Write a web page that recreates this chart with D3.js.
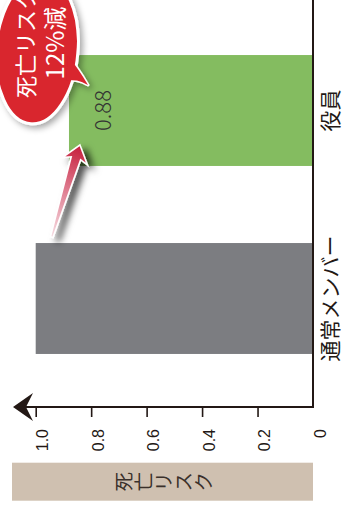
<!DOCTYPE html>
<html>
<head>
<meta charset="utf-8">
<script src="https://cdn.jsdelivr.net/npm/d3@7/dist/d3.min.js"></script>
<style>
  html, body { margin: 0; padding: 0; background: #fff; overflow: hidden; }
  svg { display: block; }
</style>
</head>
<body>
<svg id="chart" width="344" height="506"></svg>
<script>
// ---- data ----
const categories = ["通常メンバー", "役員"];
const riskValues = [1.0, 0.88];
const barColors = ["#7c7d81", "#84bc60"];
const tickValues = [0, 0.2, 0.4, 0.6, 0.8, 1.0];
const tickLabels = ["0", "0.2", "0.4", "0.6", "0.8", "1.0"];
const axisTitle = "死亡リスク";
const calloutLines = ["死亡リスク", "12%減"];
const labelledBar = 1; // index of the bar that carries a value label

// ---- layout ----
const W = 344, H = 506;
// The chart is built as an upright column chart in a 506 x 344 frame,
// then turned a quarter turn counter-clockwise onto the page.
const FW = 506, FH = 344;
const ink = "#231815";
const jpFont = "'Noto Sans CJK JP', 'Noto Sans', sans-serif";
const numFont = "'Liberation Sans', Arial, sans-serif";

const svg = d3.select("#chart");
const defs = svg.append("defs");
const g = svg.append("g").attr("transform", `translate(0,${H}) rotate(-90)`);

const axisX = 99;          // position of the value axis
const baseY = 313;         // zero line
const topY = 35.7;         // value 1.0

const x = d3.scaleBand()
  .domain(categories)
  .range([113.5, 489.5])
  .paddingInner(0.41)
  .paddingOuter(0.205);

const y = d3.scaleLinear().domain([0, 1]).range([baseY, topY]);

// ---- axis title band ----
const titleBox = { x: 5.3, w: 38 };
g.append("rect")
  .attr("x", titleBox.x).attr("y", 12)
  .attr("width", titleBox.w).attr("height", baseY - 12)
  .attr("fill", "#cfc0b0");

const titleChars = Array.from(axisTitle);
const titleMid = (12 + baseY) / 2;
g.append("g").selectAll("text").data(titleChars).join("text")
  .attr("x", titleBox.x + titleBox.w / 2)
  .attr("y", (d, i) => titleMid + (i - (titleChars.length - 1) / 2) * 20)
  .attr("text-anchor", "middle")
  .attr("dominant-baseline", "central")
  .attr("font-family", jpFont)
  .attr("font-size", 19.5)
  .attr("fill", "#3a302b")
  .text(d => d);

// ---- bars ----
g.append("g").selectAll("rect").data(categories).join("rect")
  .attr("x", d => x(d))
  .attr("width", x.bandwidth())
  .attr("y", (d, i) => y(riskValues[i]))
  .attr("height", (d, i) => baseY - y(riskValues[i]))
  .attr("fill", (d, i) => barColors[i]);

// value label on the highlighted bar
g.append("text")
  .attr("x", x(categories[labelledBar]) + x.bandwidth() / 2)
  .attr("y", y(riskValues[labelledBar]) + 42)
  .attr("text-anchor", "middle")
  .attr("font-family", jpFont)
  .attr("font-weight", 300)
  .attr("font-size", 22)
  .attr("fill", "#333")
  .text(d3.format(".2f")(riskValues[labelledBar]));

// ---- value axis ----
const axis = d3.axisLeft(y)
  .tickValues(tickValues)
  .tickFormat((d, i) => tickLabels[i])
  .tickSize(10)
  .tickPadding(12);

const ag = g.append("g").attr("transform", `translate(${axisX},0)`).call(axis);
ag.select(".domain").remove();
ag.selectAll(".tick line")
  .attr("stroke", ink)
  .attr("stroke-width", 1.6)
  .attr("opacity", d => (d === 0 ? 0 : 1));
ag.selectAll(".tick text")
  .attr("font-family", numFont)
  .attr("font-size", 16)
  .attr("fill", ink)
  .attr("transform", "translate(0,7)");

// axis line with arrow head
g.append("line")
  .attr("x1", axisX).attr("x2", axisX)
  .attr("y1", baseY).attr("y2", 26)
  .attr("stroke", ink).attr("stroke-width", 2);
g.append("path")
  .attr("d", `M${axisX},13 L${axisX + 14},33 L${axisX},26 L${axisX - 14},33 Z`)
  .attr("fill", ink);

// zero line
g.append("line")
  .attr("x1", axisX - 1).attr("x2", FW + 2)
  .attr("y1", baseY).attr("y2", baseY)
  .attr("stroke", ink).attr("stroke-width", 2);

// category labels
g.append("g").selectAll("text").data(categories).join("text")
  .attr("x", d => x(d) + x.bandwidth() / 2)
  .attr("y", baseY + 25)
  .attr("text-anchor", "middle")
  .attr("font-family", jpFont)
  .attr("font-size", 21)
  .attr("fill", ink)
  .text(d => d);

// ---- callout arrow ----
const arrowShadow = defs.append("filter").attr("id", "arrowShadow")
  .attr("x", "-60%").attr("y", "-60%").attr("width", "220%").attr("height", "220%");
arrowShadow.append("feDropShadow")
  .attr("dx", -4).attr("dy", 6).attr("stdDeviation", 3.5)
  .attr("flood-color", "#000").attr("flood-opacity", 0.7);

const tail = [x(categories[0]) + x.bandwidth() + 6, y(riskValues[0]) + 16];
const tip = [x(categories[1]) + 21, y(riskValues[1]) + 11];

const grad = defs.append("linearGradient").attr("id", "arrowFill")
  .attr("gradientUnits", "userSpaceOnUse")
  .attr("x1", tail[0]).attr("y1", tail[1])
  .attr("x2", tip[0]).attr("y2", tip[1]);
grad.append("stop").attr("offset", 0).attr("stop-color", "#f6dde3");
grad.append("stop").attr("offset", 0.45).attr("stop-color", "#e2889a");
grad.append("stop").attr("offset", 1).attr("stop-color", "#c61d3b");

const adx = tip[0] - tail[0], ady = tip[1] - tail[1];
const L = Math.hypot(adx, ady);
const ux = adx / L, uy = ady / L, nx = -uy, ny = ux;
const along = (s, w) => [tail[0] + ux * s + nx * w, tail[1] + uy * s + ny * w];
const headLen = 17;
const arrowPts = [
  along(0, -1.4), along(L - headLen + 3, -5), along(L - headLen, -13),
  along(L, 0),
  along(L - headLen, 13), along(L - headLen + 3, 5), along(0, 1.4)
];
g.append("path")
  .attr("d", "M" + arrowPts.map(p => p.join(",")).join("L") + "Z")
  .attr("fill", "url(#arrowFill)")
  .attr("stroke", "#fff").attr("stroke-width", 1.6)
  .attr("stroke-linejoin", "miter")
  .attr("filter", "url(#arrowShadow)");

// ---- callout bubble ----
const bubbleShadow = defs.append("filter").attr("id", "bubbleShadow")
  .attr("x", "-30%").attr("y", "-30%").attr("width", "160%").attr("height", "160%");
bubbleShadow.append("feDropShadow")
  .attr("dx", -3).attr("dy", 3).attr("stdDeviation", 3)
  .attr("flood-color", "#000").attr("flood-opacity", 0.35);

const red = "#d9252f";
const bubble = { cx: 456, cy: 37, rx: 74, ry: 41, tilt: 5 };
const pointer = [[450, 68], [421, 88], [425, 66]];
const pointerPath = `M${pointer[0]} Q438,78 ${pointer[1]} Q428,76 ${pointer[2]} Z`;

const bg = g.append("g").attr("filter", "url(#bubbleShadow)");
bg.append("path").attr("d", pointerPath)
  .attr("fill", red).attr("stroke", "#fff").attr("stroke-width", 3).attr("stroke-linejoin", "round");
bg.append("ellipse")
  .attr("cx", bubble.cx).attr("cy", bubble.cy)
  .attr("rx", bubble.rx).attr("ry", bubble.ry)
  .attr("transform", `rotate(${bubble.tilt},${bubble.cx},${bubble.cy})`)
  .attr("fill", red).attr("stroke", "#fff").attr("stroke-width", 3);
bg.append("path").attr("d", pointerPath).attr("fill", red);

const textCx = 463;
g.append("text")
  .attr("x", textCx).attr("y", 33.5)
  .attr("text-anchor", "middle")
  .attr("font-family", jpFont).attr("font-size", 22)
  .attr("fill", "#fff")
  .text(calloutLines[0]);
g.append("text")
  .attr("x", textCx).attr("y", 64)
  .attr("text-anchor", "middle")
  .attr("font-family", jpFont).attr("font-size", 24)
  .attr("fill", "#fff")
  .text(calloutLines[1]);
</script>
</body>
</html>
